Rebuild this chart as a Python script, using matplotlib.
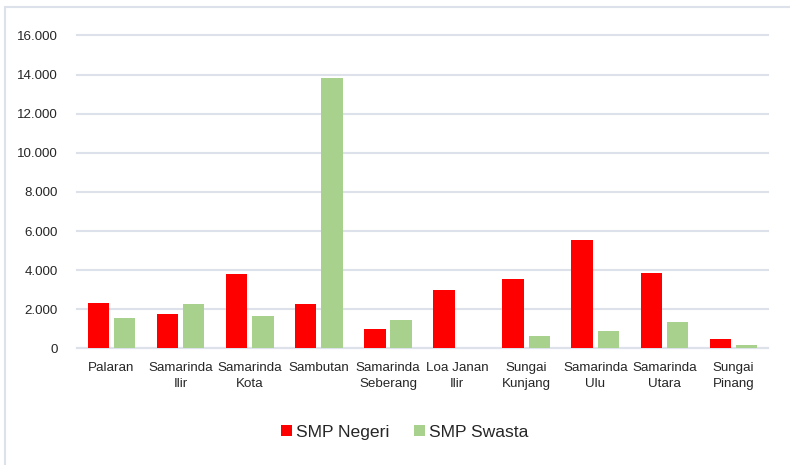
import matplotlib.pyplot as plt
import numpy as np
from matplotlib.patches import Rectangle
from matplotlib.ticker import FuncFormatter

plt.rcParams['font.family'] = ['Liberation Sans', 'DejaVu Sans']

kecamatan = ['Palaran', 'Samarinda\nIlir', 'Samarinda\nKota', 'Sambutan', 'Samarinda\nSeberang',
             'Loa Janan\nIlir', 'Sungai\nKunjang', 'Samarinda\nUlu', 'Samarinda\nUtara', 'Sungai\nPinang']
smp_negeri = [2300, 1755, 3815, 2280, 970, 3000, 3545, 5555, 3850, 475]
smp_swasta = [1565, 2250, 1635, 13840, 1465, 0, 615, 870, 1330, 170]
yticks = [0, 2000, 4000, 6000, 8000, 10000, 12000, 14000, 16000]

fig = plt.figure(figsize=(7.9, 4.65), dpi=100)
ax = fig.add_axes([77/790, 1 - 348.3/465, (768-77)/790, (348.3-35.5)/465])

# bingkai luar
fig.patches.append(Rectangle((5/790, -0.1), 1.2, (465-6.5)/465 + 0.1, transform=fig.transFigure,
                             fill=False, edgecolor='#dde2ea', lw=1.5))

x = np.arange(len(kecamatan))
w = 0.31
ax.bar(x - 0.19, smp_negeri, w, color='#ff0000', label='SMP Negeri', zorder=3)
ax.bar(x + 0.19, smp_swasta, w, color='#a9d18e', label='SMP Swasta', zorder=3)

ax.set_xlim(-0.5, len(kecamatan) - 0.5)
ax.set_ylim(0, 16000)
ax.set_yticks(yticks)
ax.yaxis.set_major_formatter(FuncFormatter(lambda v, p: f'{int(v):,}'.replace(',', '.')))
ax.grid(axis='y', color='#dde2ea', lw=1.5, zorder=0)
ax.set_xticks(x)
ax.set_xticklabels(kecamatan, fontsize=9.6, color='#262626', linespacing=1.45)
ax.tick_params(axis='y', labelsize=9.6, labelcolor='#262626', length=0, pad=14)
ax.tick_params(axis='x', length=0, pad=10)
for s in ['top', 'right', 'left']:
    ax.spines[s].set_visible(False)
ax.spines['bottom'].set_color('#dde2ea')
ax.spines['bottom'].set_linewidth(1.5)
for gl in ax.get_ygridlines():
    gl.set_clip_on(False)

fig.legend(loc='center', bbox_to_anchor=(405/790, 1 - 432/465), ncol=2, frameon=False,
           fontsize=12.6, handlelength=0.6, handleheight=0.6, handletextpad=0.27,
           columnspacing=1.4, labelcolor='#262626')

fig.savefig('out.png', dpi=100)
